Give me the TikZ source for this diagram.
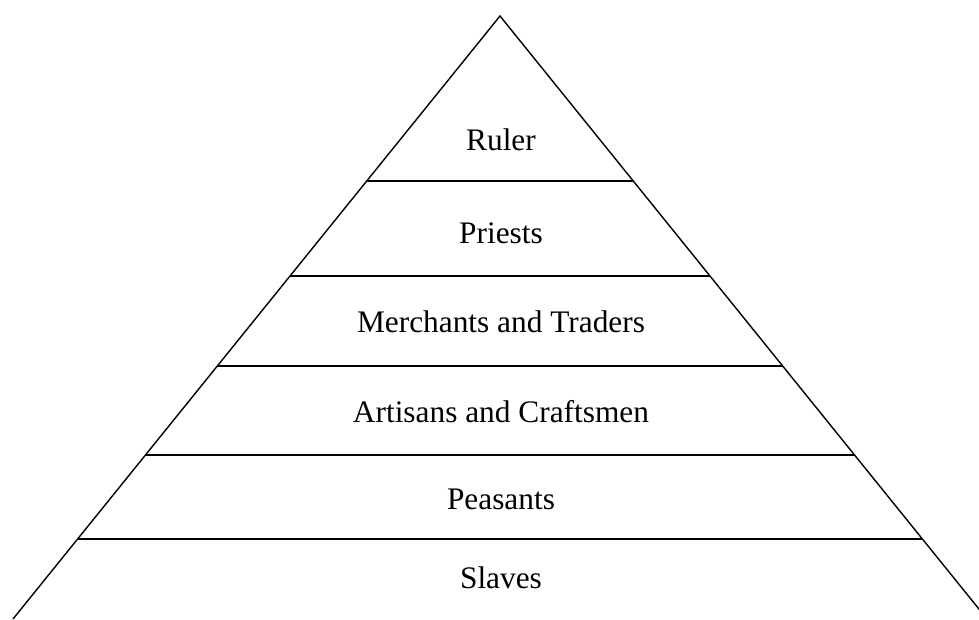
\documentclass[tikz,border=0pt]{standalone}
\usepackage{fontspec}
\setmainfont{Liberation Serif}
\usetikzlibrary{calc}
\tikzset{
  edge/.style={line width=1pt, black},
  tier/.style={font=\fontsize{22.3}{26}\selectfont, inner sep=0pt, anchor=center}
}
\begin{document}
\begin{tikzpicture}[x=0.025cm, y=-0.025cm]
  \useasboundingbox (0,0) rectangle (979,619);
  \clip (0,0) rectangle (979,619);
  % outline
  \coordinate (apex) at (500,16);
  \coordinate (bl) at (13,619);
  \coordinate (br) at (987,619);
  \draw[edge] (bl) -- (apex) -- (br);
  % dividing lines between the tiers
  \foreach \t [count=\i] in {0.2736,0.4312,0.5804,0.7280,0.8673} {
    \coordinate (l\i) at ($(apex)!\t!(bl)$);
    \coordinate (r\i) at ($(apex)!\t!(br)$);
    \draw[edge] (l\i) -- (r\i);
  }
  % labels
  \node[tier] (ruler) at (501,140) {Ruler};
  \node[tier] (priests) at (501,233) {Priests};
  \node[tier] (merchants) at (501,322) {Merchants and Traders};
  \node[tier] (artisans) at (501,412) {Artisans and Craftsmen};
  \node[tier] (peasants) at (501,499) {Peasants};
  \node[tier] (slaves) at (501,578) {Slaves};
\end{tikzpicture}
\end{document}
